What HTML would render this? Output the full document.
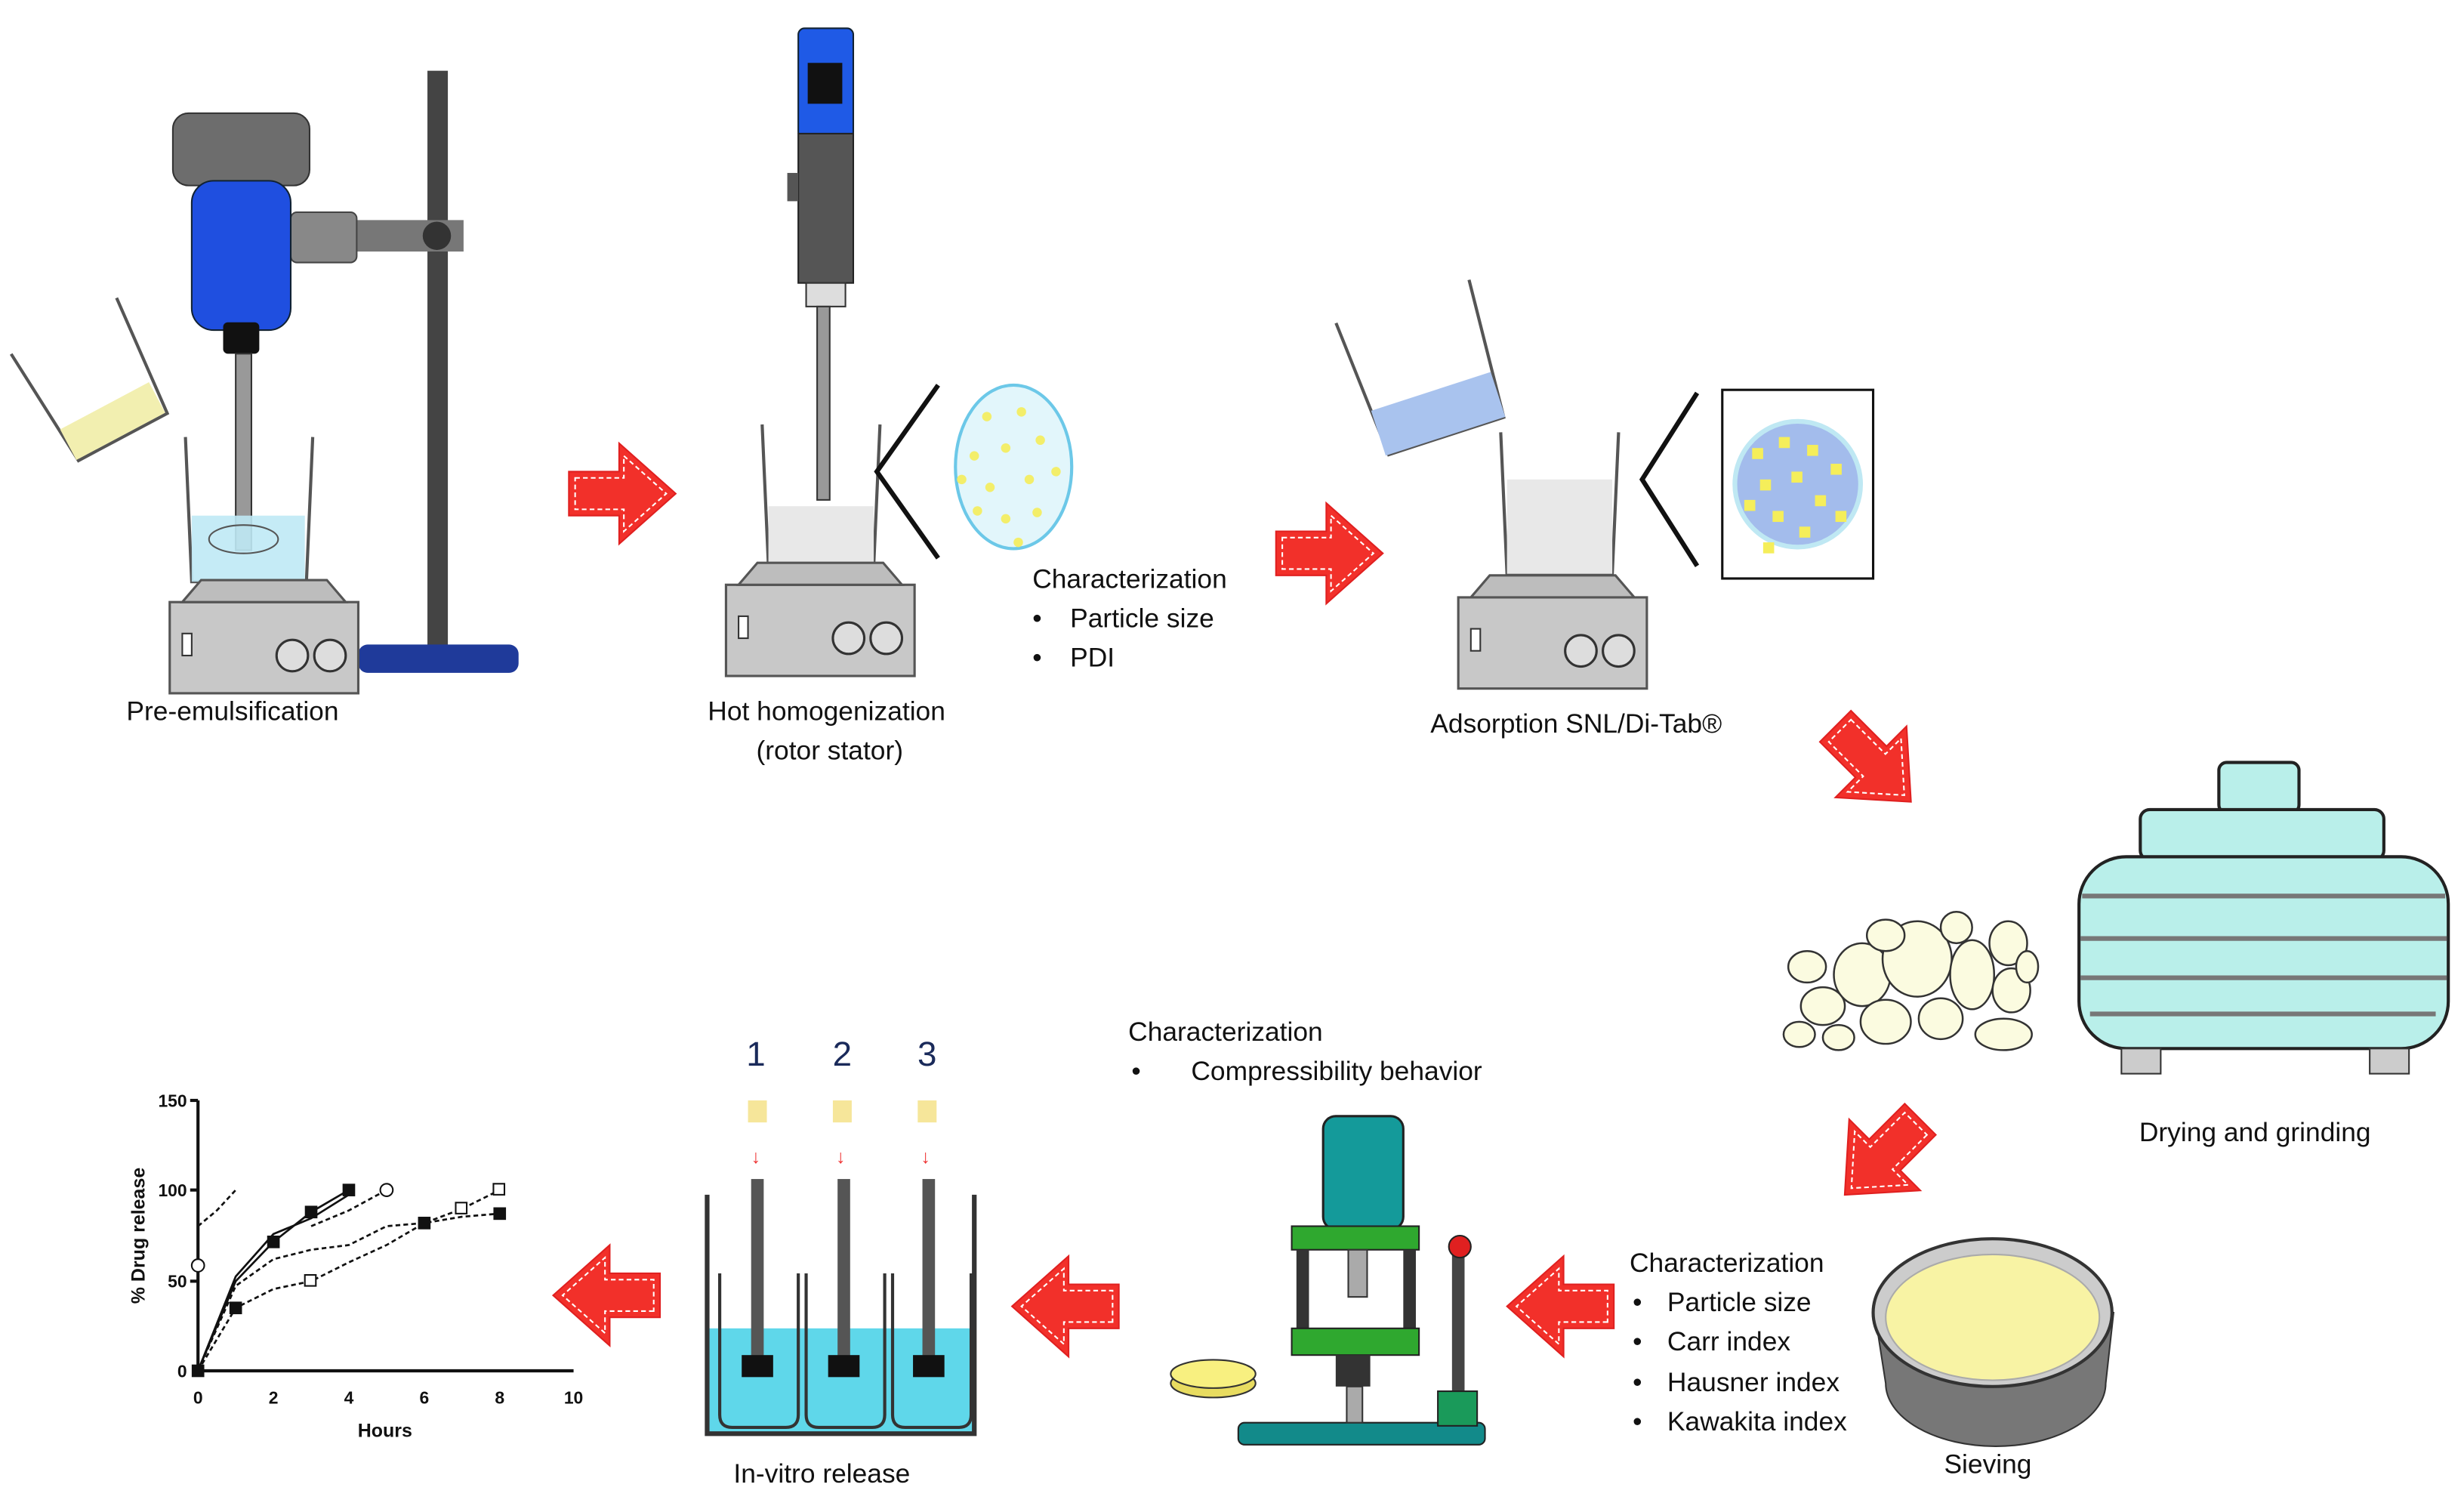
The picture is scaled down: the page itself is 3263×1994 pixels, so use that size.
<!DOCTYPE html>
<html><head><meta charset="utf-8"><style>
html,body{margin:0;padding:0;background:#fff;}
svg{display:block}
text{font-family:"Liberation Sans","DejaVu Sans",sans-serif;fill:#111;}
</style></head><body>
<svg width="3263" height="1994" viewBox="0 0 1568 958" preserveAspectRatio="none" xmlns="http://www.w3.org/2000/svg">
<defs>
<g id="arr">
<polygon points="0,-14 32,-14 32,-32 68,0 32,32 32,14 0,14" fill="#f2302a" stroke="#e02020" stroke-width="1"/>
<polygon points="4,-10 35,-10 35,-24 62,0 35,24 35,10 4,10" fill="none" stroke="#fff" stroke-width="1" stroke-dasharray="3,2"/>
</g>
<g id="plate">
<rect x="0" y="0" width="120" height="58" fill="#c8c8c8" stroke="#555" stroke-width="1.5"/>
<path d="M8 0 L20 -14 L100 -14 L112 0Z" fill="#bdbdbd" stroke="#555" stroke-width="1.5"/>
<rect x="8" y="20" width="6" height="14" fill="#fff" stroke="#333"/>
<circle cx="78" cy="34" r="10" fill="#ddd" stroke="#333" stroke-width="1.5"/>
<circle cx="102" cy="34" r="10" fill="#ddd" stroke="#333" stroke-width="1.5"/>
</g>
</defs>

<!-- Pre-emulsification -->
<rect x="272" y="45" width="13" height="370" fill="#444"/>
<rect x="228" y="410" width="102" height="18" rx="6" fill="#1f3a9a"/>
<rect x="185" y="140" width="110" height="20" fill="#777"/>
<circle cx="278" cy="150" r="9" fill="#333"/>
<rect x="185" y="135" width="42" height="32" rx="4" fill="#888" stroke="#444"/>
<rect x="110" y="72" width="87" height="46" rx="10" fill="#6d6d6d" stroke="#333"/>
<rect x="122" y="115" width="63" height="95" rx="14" fill="#1f4fe0" stroke="#123"/>
<rect x="142" y="205" width="23" height="20" rx="3" fill="#111"/>
<rect x="150" y="225" width="10" height="125" fill="#999" stroke="#333"/>
<path d="M118 278 L122 370 L195 370 L199 278" fill="none" stroke="#555" stroke-width="2"/>
<rect x="122" y="328" width="72" height="42" fill="#bfe9f5" opacity="0.9"/>
<ellipse cx="155" cy="343" rx="22" ry="9" fill="none" stroke="#555"/>
<g transform="translate(108,383)"><use href="#plate"/></g>
<g transform="rotate(-28 55 245)"><path d="M22 205 L28 285 L92 285 L98 205" fill="#fff" stroke="#555" stroke-width="2"/><rect x="27" y="262" width="64" height="22" fill="#f2efb0"/></g>
<text x="148" y="458" font-size="17" text-anchor="middle">Pre-emulsification</text>
<use href="#arr" transform="translate(362,314)"/>

<!-- Homogenizer -->
<rect x="508" y="18" width="35" height="70" rx="4" fill="#1f5ae6" stroke="#123"/>
<rect x="514" y="40" width="22" height="26" fill="#111"/>
<rect x="508" y="85" width="35" height="95" fill="#555" stroke="#222"/>
<rect x="501" y="110" width="7" height="18" fill="#555"/>
<rect x="513" y="180" width="25" height="15" fill="#ddd" stroke="#333"/>
<rect x="520" y="195" width="8" height="123" fill="#999" stroke="#333"/>
<path d="M485 270 L489 360 L556 360 L560 270" fill="none" stroke="#555" stroke-width="2"/>
<rect x="489" y="322" width="67" height="38" fill="#e8e8e8"/>
<g transform="translate(462,372)"><use href="#plate"/></g>
<polyline points="597,245 558,300 597,355" fill="none" stroke="#111" stroke-width="3"/>
<ellipse cx="645" cy="297" rx="37" ry="52" fill="#e2f6fb" stroke="#6cc8e8" stroke-width="2"/>
<g fill="#f3ee6a">
<circle cx="628" cy="265" r="3"/><circle cx="650" cy="262" r="3"/><circle cx="620" cy="290" r="3"/><circle cx="640" cy="285" r="3"/><circle cx="662" cy="280" r="3"/><circle cx="630" cy="310" r="3"/><circle cx="655" cy="305" r="3"/><circle cx="672" cy="300" r="3"/><circle cx="640" cy="330" r="3"/><circle cx="660" cy="326" r="3"/><circle cx="622" cy="325" r="3"/><circle cx="648" cy="345" r="3"/><circle cx="612" cy="305" r="3"/></g>
<text x="526" y="458" font-size="17" text-anchor="middle">Hot homogenization</text>
<text x="528" y="483" font-size="17" text-anchor="middle">(rotor stator)</text>
<text x="657" y="374" font-size="17">Characterization</text>
<text x="657" y="399" font-size="17">•</text><text x="681" y="399" font-size="17">Particle size</text>
<text x="657" y="424" font-size="17">•</text><text x="681" y="424" font-size="17">PDI</text>
<use href="#arr" transform="translate(812,352)"/>

<!-- Adsorption -->
<g transform="rotate(-18 905 235)"><path d="M862 190 L868 280 L945 280 L951 190" fill="#fff" stroke="#555" stroke-width="2"/><rect x="866" y="250" width="80" height="30" fill="#a9c3ee"/></g>
<path d="M955 275 L959 365 L1026 365 L1030 275" fill="none" stroke="#555" stroke-width="2"/>
<rect x="959" y="305" width="67" height="60" fill="#e8e8e8"/>
<g transform="translate(928,380)"><use href="#plate"/></g>
<polyline points="1080,250 1045,305 1080,360" fill="none" stroke="#111" stroke-width="3"/>
<rect x="1096" y="248" width="96" height="120" fill="#fff" stroke="#111" stroke-width="1.5"/>
<circle cx="1144" cy="308" r="40" fill="#a3bcec" stroke="#bfe8f3" stroke-width="3"/>
<g fill="#f5ee5a"><rect x="1115" y="285" width="7" height="7"/><rect x="1132" y="278" width="7" height="7"/><rect x="1150" y="283" width="7" height="7"/><rect x="1165" y="295" width="7" height="7"/><rect x="1120" y="305" width="7" height="7"/><rect x="1140" y="300" width="7" height="7"/><rect x="1155" y="315" width="7" height="7"/><rect x="1128" y="325" width="7" height="7"/><rect x="1145" y="335" width="7" height="7"/><rect x="1110" y="318" width="7" height="7"/><rect x="1168" y="325" width="7" height="7"/><rect x="1122" y="345" width="7" height="7"/></g>
<text x="1003" y="466" font-size="17" text-anchor="middle">Adsorption SNL/Di-Tab®</text>
<use href="#arr" transform="translate(1168,462) rotate(45)"/>

<!-- Drying -->
<rect x="1412" y="485" width="51" height="32" rx="5" fill="#b9efea" stroke="#222" stroke-width="2"/>
<rect x="1362" y="515" width="155" height="32" rx="6" fill="#b9efea" stroke="#222" stroke-width="2"/>
<rect x="1323" y="545" width="235" height="122" rx="30" fill="#b9efea" stroke="#222" stroke-width="2"/>
<g stroke="#777" stroke-width="3"><line x1="1325" y1="570" x2="1556" y2="570"/><line x1="1324" y1="597" x2="1557" y2="597"/><line x1="1324" y1="622" x2="1557" y2="622"/><line x1="1330" y1="645" x2="1550" y2="645"/></g>
<rect x="1350" y="667" width="25" height="16" fill="#ccc" stroke="#333"/>
<rect x="1508" y="667" width="25" height="16" fill="#ccc" stroke="#333"/>
<g fill="#fbfbe0" stroke="#333" stroke-width="1.2">
<ellipse cx="1160" cy="640" rx="14" ry="12"/><ellipse cx="1185" cy="620" rx="18" ry="20"/><ellipse cx="1150" cy="615" rx="12" ry="10"/><ellipse cx="1220" cy="610" rx="22" ry="24"/><ellipse cx="1200" cy="650" rx="16" ry="14"/><ellipse cx="1235" cy="648" rx="14" ry="13"/><ellipse cx="1255" cy="620" rx="14" ry="22"/><ellipse cx="1278" cy="600" rx="12" ry="14"/><ellipse cx="1280" cy="630" rx="12" ry="14"/><ellipse cx="1275" cy="658" rx="18" ry="10"/><ellipse cx="1145" cy="658" rx="10" ry="8"/><ellipse cx="1200" cy="595" rx="12" ry="10"/><ellipse cx="1245" cy="590" rx="10" ry="10"/><ellipse cx="1290" cy="615" rx="7" ry="10"/><ellipse cx="1170" cy="660" rx="10" ry="8"/></g>
<text x="1435" y="726" font-size="17" text-anchor="middle">Drying and grinding</text>
<use href="#arr" transform="translate(1222,712) rotate(135)"/>

<!-- Sieving -->
<path d="M1193 835 L1200 880 A70 40 0 0 0 1340 880 L1345 835 Z" fill="#777" stroke="#333"/>
<ellipse cx="1268" cy="835" rx="76" ry="47" fill="#ccc" stroke="#333" stroke-width="2"/>
<ellipse cx="1268" cy="838" rx="68" ry="40" fill="#f8f3a4" stroke="#aaa"/>
<text x="1265" y="937" font-size="17" text-anchor="middle">Sieving</text>
<text x="1037" y="809" font-size="17">Characterization</text>
<text x="1039" y="834" font-size="17">•</text><text x="1061" y="834" font-size="17">Particle size</text>
<text x="1039" y="859" font-size="17">•</text><text x="1061" y="859" font-size="17">Carr index</text>
<text x="1039" y="885" font-size="17">•</text><text x="1061" y="885" font-size="17">Hausner index</text>
<text x="1039" y="910" font-size="17">•</text><text x="1061" y="910" font-size="17">Kawakita index</text>
<use href="#arr" transform="translate(1027,831) rotate(180)"/>

<!-- Tablet press -->
<rect x="788" y="905" width="157" height="14" rx="4" fill="#128a8a" stroke="#222"/>
<rect x="842" y="710" width="51" height="72" rx="8" fill="#149a9a" stroke="#222" stroke-width="1.5"/>
<rect x="822" y="780" width="81" height="15" fill="#2fa82f" stroke="#222"/>
<rect x="825" y="795" width="8" height="52" fill="#333"/><rect x="893" y="795" width="8" height="52" fill="#333"/>
<rect x="858" y="795" width="12" height="30" fill="#aaa" stroke="#333"/>
<rect x="822" y="845" width="81" height="17" fill="#2fa82f" stroke="#222"/>
<rect x="850" y="862" width="22" height="20" fill="#333"/>
<rect x="857" y="882" width="10" height="23" fill="#aaa" stroke="#333"/>
<rect x="924" y="795" width="8" height="100" fill="#444"/>
<circle cx="929" cy="793" r="7" fill="#e02020" stroke="#222"/>
<rect x="915" y="885" width="25" height="22" fill="#1a9a5a" stroke="#222"/>
<ellipse cx="772" cy="880" rx="27" ry="9" fill="#e8dc60" stroke="#333"/>
<ellipse cx="772" cy="874" rx="27" ry="9" fill="#f8f080" stroke="#333"/>
<text x="718" y="662" font-size="17">Characterization</text>
<text x="720" y="687" font-size="17">•</text><text x="758" y="687" font-size="17">Compressibility behavior</text>
<use href="#arr" transform="translate(712,831) rotate(180)"/>

<!-- Dissolution -->
<rect x="450" y="845" width="170" height="67" fill="#5fd7ea"/>
<path d="M450 760 L450 912 L620 912 L620 760" fill="none" stroke="#333" stroke-width="3"/>
<g stroke="#333" stroke-width="2" fill="none">
<path d="M458 810 L458 900 Q458 908 466 908 L500 908 Q508 908 508 900 L508 810"/>
<path d="M513 810 L513 900 Q513 908 521 908 L555 908 Q563 908 563 900 L563 810"/>
<path d="M568 810 L568 900 Q568 908 576 908 L610 908 Q618 908 618 900 L618 810"/></g>
<g fill="#555"><rect x="478" y="750" width="8" height="115"/><rect x="533" y="750" width="8" height="115"/><rect x="587" y="750" width="8" height="115"/></g>
<g fill="#111"><rect x="472" y="862" width="20" height="14"/><rect x="527" y="862" width="20" height="14"/><rect x="581" y="862" width="20" height="14"/></g>
<g fill="#f6e69a"><rect x="476" y="700" width="12" height="14"/><rect x="530" y="700" width="12" height="14"/><rect x="584" y="700" width="12" height="14"/></g>
<g font-size="12"><text x="478" y="740" style="fill:#e33">↓</text><text x="532" y="740" style="fill:#e33">↓</text><text x="586" y="740" style="fill:#e33">↓</text></g>
<text x="481" y="678" font-size="22" text-anchor="middle" style="fill:#1a2a5a">1</text>
<text x="536" y="678" font-size="22" text-anchor="middle" style="fill:#1a2a5a">2</text>
<text x="590" y="678" font-size="22" text-anchor="middle" style="fill:#1a2a5a">3</text>
<text x="523" y="943" font-size="17" text-anchor="middle">In-vitro release</text>
<use href="#arr" transform="translate(420,824) rotate(180)"/>

<!-- Graph -->
<g stroke="#111" stroke-width="2" fill="none">
<line x1="126" y1="700" x2="126" y2="872"/><line x1="126" y1="872" x2="365" y2="872"/>
<line x1="121" y1="700" x2="126" y2="700"/><line x1="121" y1="757" x2="126" y2="757"/><line x1="121" y1="815" x2="126" y2="815"/>
</g>
<g font-size="11" font-weight="bold" text-anchor="end"><text x="119" y="704">150</text><text x="119" y="761">100</text><text x="119" y="819">50</text><text x="119" y="876">0</text></g>
<g font-size="11" font-weight="bold" text-anchor="middle"><text x="126" y="893">0</text><text x="174" y="893">2</text><text x="222" y="893">4</text><text x="270" y="893">6</text><text x="318" y="893">8</text><text x="365" y="893">10</text></g>
<text x="245" y="914" font-size="12" font-weight="bold" text-anchor="middle">Hours</text>
<text transform="translate(92,786) rotate(-90)" font-size="12" font-weight="bold" text-anchor="middle">% Drug release</text>
<g stroke="#111" stroke-width="1.3" fill="none">
<polyline points="126,872 150,815 174,790 198,771 222,757"/>
<polyline points="126,872 150,812 174,785 198,775 222,760"/>
<polyline points="126,872 150,818 174,801 198,795 222,792 246,780 270,778 294,774 318,772" stroke-dasharray="3,2"/>
<polyline points="126,872 150,832 174,820 198,815 222,803 246,792 270,778 294,769 318,757" stroke-dasharray="3,2"/>
<polyline points="126,780 138,770 150,757" stroke-dasharray="3,2"/>
<polyline points="198,780 222,770 246,757" stroke-dasharray="3,2"/>
</g>
<g fill="#111"><rect x="146" y="828" width="8" height="8"/><rect x="170" y="786" width="8" height="8"/><rect x="194" y="767" width="8" height="8"/><rect x="218" y="753" width="8" height="8"/><rect x="266" y="774" width="8" height="8"/><rect x="314" y="768" width="8" height="8"/><rect x="122" y="868" width="8" height="8"/></g>
<g fill="#fff" stroke="#111"><rect x="194" y="811" width="7" height="7"/><rect x="314" y="753" width="7" height="7"/><rect x="290" y="765" width="7" height="7"/><circle cx="246" cy="757" r="4"/><circle cx="126" cy="805" r="4"/></g>
</svg>
</body></html>
